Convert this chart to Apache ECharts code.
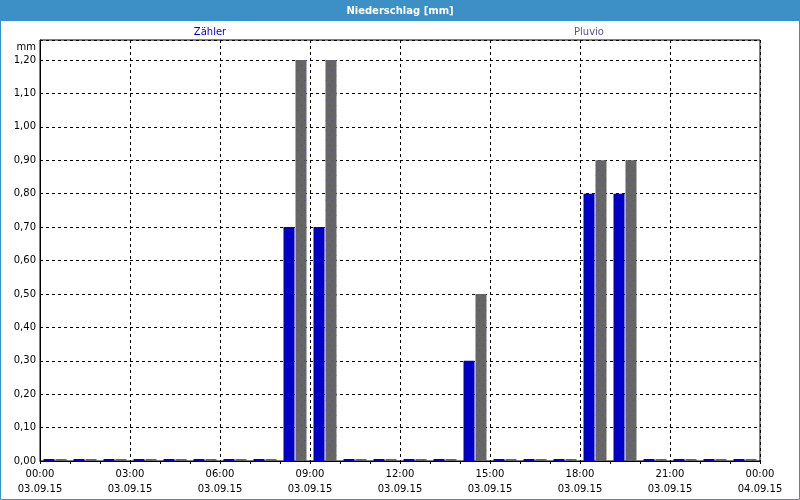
<!DOCTYPE html>
<html>
<head>
<meta charset="utf-8">
<script src="https://cdn.jsdelivr.net/npm/echarts@6/dist/echarts.min.js"></script>
<style>
html,body{margin:0;padding:0;background:#fff;}
#chart{width:800px;height:500px;}
</style>
</head>
<body>
<div id="chart"></div>
<script>
// Hourly bins (start hour of each bin) on 03.09.15
var hours = [0,1,2,3,4,5,6,7,8,9,10,11,12,13,14,15,16,17,18,19,20,21,22,23];
// Precipitation [mm] per hour
var zaehler = [0,0,0,0,0,0,0,0,0.7,0.7,0,0,0,0,0.3,0,0,0,0.8,0.8,0,0,0,0];
var pluvio  = [0,0,0,0,0,0,0,0,1.2,1.2,0,0,0,0,0.5,0,0,0,0.9,0.9,0,0,0,0];
// X tick labels (every 3 hours)
var xTickTimes = ['00:00','03:00','06:00','09:00','12:00','15:00','18:00','21:00','00:00'];
var xTickDates = ['03.09.15','03.09.15','03.09.15','03.09.15','03.09.15','03.09.15','03.09.15','03.09.15','04.09.15'];
var seriesNames = ['Zähler','Pluvio'];

var FONT = 'DejaVu Sans';
var chart = echarts.init(document.getElementById('chart'), null, {renderer:'canvas'});

function toPoints(arr){
  return hours.map(function(h,i){ return [h + 0.5, arr[i]]; });
}

var option = {
  backgroundColor: '#ffffff',
  animation: false,
  textStyle: {fontFamily: FONT},
  grid: {left: 40, right: 40, top: 40, bottom: 39, show: true, borderColor: '#000', borderWidth: 1, backgroundColor: 'transparent'},
  graphic: [
    {type:'rect', shape:{x:0,y:0,width:800,height:21}, style:{fill:'#3c90c6'}, z:0},
    {type:'rect', shape:{x:0.5,y:0.5,width:799,height:499}, style:{fill:'none', stroke:'#3c90c6', lineWidth:1}, z:0},
    {type:'text', x:400, y:11, style:{text:'Niederschlag [mm]', fill:'#ffffff', font:'bold 10px "DejaVu Sans"', textAlign:'center', textVerticalAlign:'middle'}},
    {type:'text', x:210, y:32, style:{text:seriesNames[0], fill:'#0000cc', font:'10px "DejaVu Sans"', textAlign:'center', textVerticalAlign:'middle'}},
    {type:'text', x:589, y:32, style:{text:seriesNames[1], fill:'#55558a', font:'10px "DejaVu Sans"', textAlign:'center', textVerticalAlign:'middle'}},
    {type:'text', x:36, y:47, style:{text:'mm', fill:'#000', font:'10px "DejaVu Sans"', textAlign:'right', textVerticalAlign:'middle'}}
  ],
  xAxis: {
    type: 'value', min: 0, max: 24, interval: 3,
    axisLine: {show: true, lineStyle: {color: '#000', width: 1}},
    axisTick: {show: true, length: 3, inside: false, lineStyle: {color: '#000'}},
    minorTick: {show: true, splitNumber: 3, length: 3, lineStyle: {color: '#000'}},
    splitLine: {show: true, lineStyle: {color: '#000', type: [3,3], width: 1}},
    axisLabel: {
      margin: 6, color: '#000', fontFamily: FONT, fontSize: 10, lineHeight: 15,
      showMinLabel: true, showMaxLabel: true,
      formatter: function(v){ var i = Math.round(v/3); return xTickTimes[i] + '\n' + xTickDates[i]; }
    }
  },
  yAxis: {
    type: 'value', min: 0, max: 1.26, interval: 0.1,
    axisLine: {show: true, lineStyle: {color: '#000', width: 1}},
    axisTick: {show: false},
    splitLine: {show: true, lineStyle: {color: '#000', type: [3,3], width: 1}},
    axisLabel: {
      margin: 4, color: '#000', fontFamily: FONT, fontSize: 10, showMaxLabel: false,
      formatter: function(v){ return v.toFixed(2).replace('.', ','); }
    }
  },
  series: [
    {
      name: seriesNames[0], type: 'bar', data: toPoints(zaehler),
      barWidth: 11, barGap: '9%', barMinHeight: 2,
      itemStyle: {color: '#0000c4'}
    },
    {
      name: seriesNames[1], type: 'bar', data: toPoints(pluvio),
      barWidth: 11, barGap: '9%', barMinHeight: 2,
      itemStyle: {
        color: '#666666',
        decal: {symbol: 'rect', symbolSize: 1, color: 'rgba(50,50,150,0.45)',
                dashArrayX: [[1,6],[0,3,1,3]], dashArrayY: [1,4], rotation: 0}
      }
    }
  ]
};
chart.setOption(option);
</script>
</body>
</html>
